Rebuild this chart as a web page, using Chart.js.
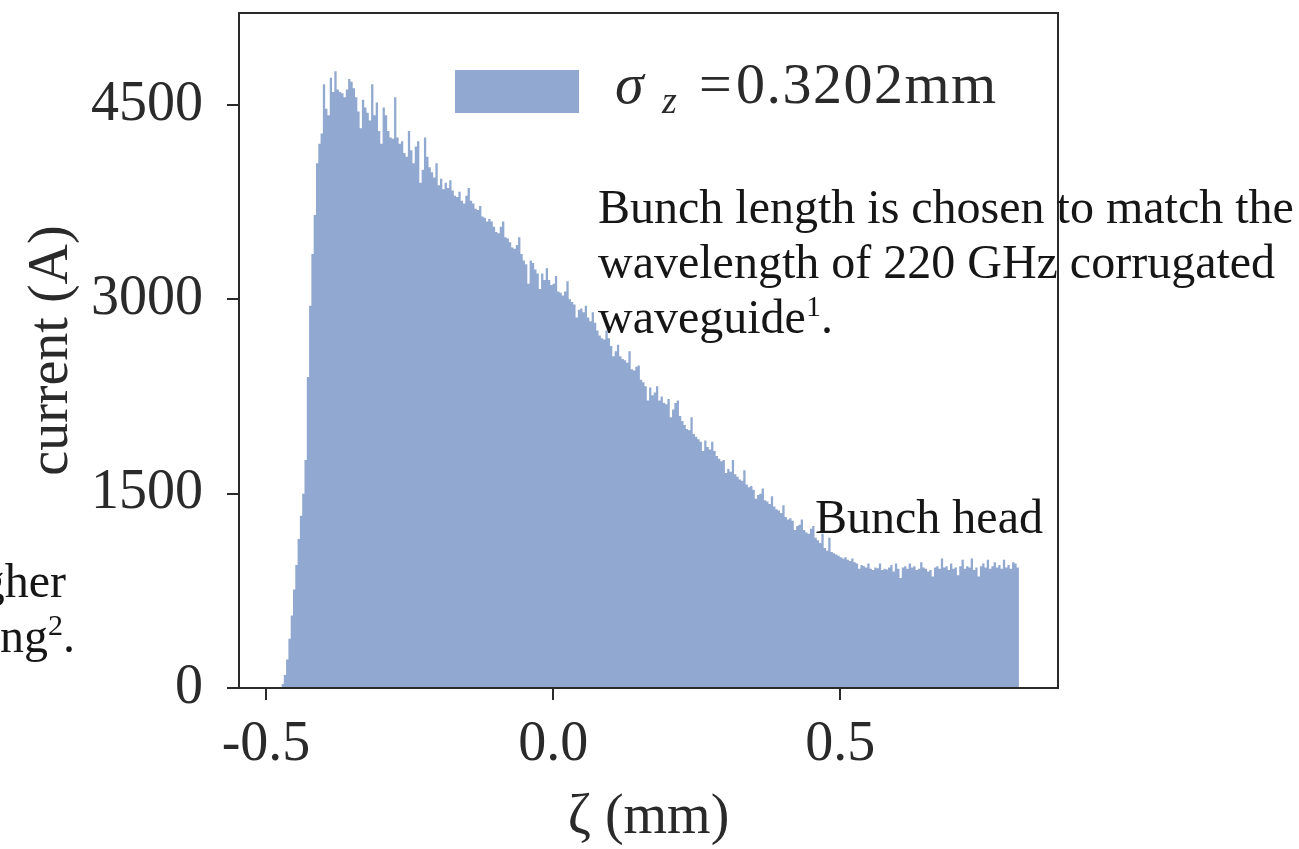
<!DOCTYPE html>
<html>
<head>
<meta charset="utf-8">
<title>Bunch current profile</title>
<script src="https://cdn.jsdelivr.net/npm/chart.js@4.4.1/dist/chart.umd.min.js"></script>
<style>
  html, body { margin: 0; padding: 0; background: #fff; }
  #wrap { position: relative; width: 1299px; height: 849px; }
</style>
</head>
<body>
<div id="wrap"><canvas id="profile"></canvas></div>
<script>
// histogram bins along zeta (mm)
const binStart = -0.473;
const binWidth = 0.004;

// current per bin (A), head of the bunch on the right
const current = [
  30, 100, 220, 380, 560, 760, 950, 1150, 1330, 1500,
  1760, 2400, 2950, 3350, 3650, 4050, 4200, 4280, 4660, 4470,
  4420, 4710, 4600, 4760, 4620, 4600, 4590, 4560, 4620, 4700,
  4680, 4630, 4560, 4450, 4320, 4540, 4480, 4440, 4380, 4660,
  4420, 4520, 4300, 4200, 4480, 4420, 4300, 4250, 4240, 4560,
  4250, 4200, 4220, 4130, 4100, 4300, 4150, 4050, 4180, 4220,
  3900, 4000, 4250, 4100, 4020, 3980, 3940, 4050, 3880, 3930,
  3850, 3900, 3860, 3920, 3840, 3800, 3790, 3830, 3760, 3740,
  3800, 3860, 3760, 3740, 3700, 3690, 3720, 3640, 3630, 3600,
  3620, 3600, 3560, 3520, 3510, 3560, 3600, 3480, 3470, 3440,
  3400, 3390, 3420, 3480, 3350, 3300, 3270, 3120, 3300, 3280,
  3230, 3200, 3080, 3200, 3150, 3240, 3150, 3110, 3120, 3180,
  3060, 3050, 3030, 3060, 3140, 3000, 2980, 2960, 2860, 2920,
  2930, 2900, 2950, 2860, 2830, 2900, 2820, 2760, 2720, 2700,
  2690, 2760, 2700, 2640, 2560, 2600, 2650, 2560, 2540, 2530,
  2510, 2600, 2460, 2450, 2480, 2490, 2380, 2360, 2330, 2220,
  2320, 2260, 2280, 2330, 2220, 2250, 2200, 2190, 2230, 2090,
  2150, 2200, 2220, 2100, 2060, 2030, 2000, 1990, 2090, 1960,
  1940, 1920, 1900, 1830, 1910, 1860, 1840, 1900, 1830, 1790,
  1770, 1750, 1760, 1660, 1690, 1670, 1760, 1650, 1630, 1610,
  1600, 1680, 1570, 1550, 1560, 1530, 1460, 1490, 1500, 1540,
  1450, 1440, 1420, 1480, 1400, 1380, 1370, 1350, 1410, 1320,
  1300, 1310, 1290, 1220, 1250, 1260, 1300, 1220, 1200, 1190,
  1230, 1250, 1160, 1140, 1120, 1190, 1080, 1060, 1160, 1050,
  1040, 1030, 1020, 1010, 1000, 1010, 990, 980, 1000, 970,
  960, 920, 950, 940, 930, 960, 920, 910, 930, 925,
  960, 910, 920, 915, 930, 950, 900, 960, 920, 850,
  930, 940, 920, 960, 930, 940, 910, 920, 970, 930,
  920, 900, 910, 860, 930, 940, 920, 1000, 930, 940,
  910, 960, 920, 930, 870, 940, 990, 920, 940, 930,
  1000, 910, 930, 860, 940, 960, 930, 990, 920, 940,
  970, 930, 950, 920, 990, 930, 950, 920, 970, 960, 930
];

const xTicks = [-0.5, 0.0, 0.5];
const yTicks = [0, 1500, 3000, 4500];
const sigmaZ = '0.3202';

const xMin = -0.547, xMax = 0.879;
const yMin = 0, yMax = 5210;

const fillColor = 'rgb(145,169,208)';
const axisColor = '#2a2a2a';
const inkColor = '#161616';
const serif = '"Liberation Serif", "Times New Roman", serif';

// step outline: each point holds its bin value until the next edge
const points = current.map((v, i) => ({x: binStart + i * binWidth, y: v}));
points.push({x: binStart + current.length * binWidth, y: 0});

// write a run of text pieces, some raised or lowered
function runText(ctx, x, y, parts) {
  parts.forEach(p => {
    ctx.font = p.font;
    ctx.letterSpacing = p.ls || '0px';
    ctx.fillText(p.t, x, y + (p.dy || 0));
    x += ctx.measureText(p.t).width;
  });
  ctx.letterSpacing = '0px';
  return x;
}

const boxAndNotes = {
  id: 'boxAndNotes',
  afterDraw(chart) {
    const {ctx, chartArea: a} = chart;
    ctx.save();
    // closed frame around the plot
    ctx.strokeStyle = axisColor;
    ctx.lineWidth = 2;
    ctx.strokeRect(a.left, a.top, a.right - a.left, a.bottom - a.top);

    // legend entry
    ctx.fillStyle = fillColor;
    ctx.fillRect(a.left + 216, a.top + 57, 124, 43);
    ctx.fillStyle = axisColor;
    ctx.textBaseline = 'alphabetic';
    const lx = a.left + 376, ly = a.top + 90;
    ctx.font = 'italic 58px ' + serif;
    ctx.fillText('σ', lx, ly);
    ctx.font = 'italic 38px ' + serif;
    ctx.fillText('z', lx + 47, ly + 10);
    ctx.font = '58px ' + serif;
    ctx.fillText('=', lx + 84, ly);
    ctx.letterSpacing = '1.5px';
    ctx.fillText(sigmaZ + 'mm', lx + 121, ly);
    ctx.letterSpacing = '0px';

    // slide notes around the figure
    ctx.fillStyle = inkColor;
    ctx.font = '48px ' + serif;
    ctx.fillText('Bunch length is chosen to match the', 598, 223);
    ctx.fillText('wavelength of 220 GHz corrugated', 598, 278);
    runText(ctx, 598, 333, [
      {t: 'waveguide', font: '48px ' + serif},
      {t: '1', font: '30px ' + serif, dy: -17},
      {t: '.', font: '48px ' + serif}
    ]);
    ctx.font = '48px ' + serif;
    ctx.fillText('Bunch head', 815, 533);
    ctx.textAlign = 'right';
    ctx.fillText('gher', 66, 597);
    ctx.textAlign = 'left';
    runText(ctx, 0, 652, [
      {t: 'ng', font: '48px ' + serif},
      {t: '2', font: '30px ' + serif, dy: -17},
      {t: '.', font: '48px ' + serif}
    ]);
    ctx.restore();
  }
};

new Chart(document.getElementById('profile'), {
  type: 'line',
  data: {
    datasets: [{
      label: 'current',
      data: points,
      stepped: 'before',
      fill: 'origin',
      backgroundColor: fillColor,
      borderColor: 'rgba(0,0,0,0)',
      borderWidth: 0,
      pointRadius: 0
    }]
  },
  options: {
    responsive: true,
    maintainAspectRatio: false,
    animation: false,
    layout: {padding: {left: 0, top: 13, right: 241, bottom: 0}},
    plugins: {legend: {display: false}, tooltip: {enabled: false}},
    scales: {
      x: {
        type: 'linear',
        min: xMin,
        max: xMax,
        afterBuildTicks: s => { s.ticks = xTicks.map(v => ({value: v})); },
        afterFit: s => { s.height = 161; s.paddingLeft = 0; s.paddingRight = 0; },
        border: {display: false},
        grid: {drawOnChartArea: false, color: axisColor, tickColor: axisColor, lineWidth: 2, tickLength: 12},
        ticks: {
          font: {family: serif, size: 56},
          color: axisColor,
          padding: 12,
          maxRotation: 0,
          autoSkip: false,
          callback: v => v.toFixed(1)
        },
        title: {
          display: true,
          text: 'ζ (mm)',
          font: {family: serif, size: 56, lineHeight: 1},
          color: axisColor,
          padding: {top: 0, bottom: 3}
        }
      },
      y: {
        min: yMin,
        max: yMax,
        afterBuildTicks: s => { s.ticks = yTicks.map(v => ({value: v})); },
        afterFit: s => { s.width = 239; s.paddingTop = 0; s.paddingBottom = 0; },
        border: {display: false},
        grid: {drawOnChartArea: false, color: axisColor, tickColor: axisColor, lineWidth: 2, tickLength: 12},
        ticks: {
          font: {family: serif, size: 56},
          color: axisColor,
          padding: 24,
          callback: v => String(v)
        },
        title: {
          display: true,
          text: 'current (A)',
          font: {family: serif, size: 56, lineHeight: 1},
          color: axisColor,
          padding: {top: 24, bottom: 0}
        }
      }
    }
  },
  plugins: [boxAndNotes]
});
</script>
</body>
</html>
